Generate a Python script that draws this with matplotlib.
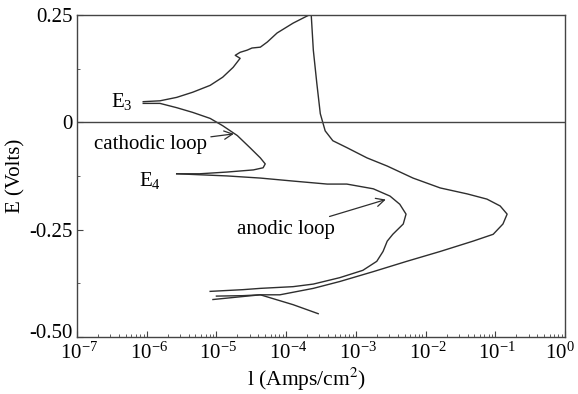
import numpy as np
import matplotlib
matplotlib.use("Agg")
import matplotlib.pyplot as plt
import matplotlib.transforms as mtransforms
from matplotlib.ticker import LogLocator, FixedLocator, NullFormatter

plt.rcParams['font.family'] = ['Liberation Serif', 'DejaVu Serif']
plt.rcParams['mathtext.fontset'] = 'stix'

# log10(current density, A/cm2) and potential (V)
outer_logI = [-6.05, -5.81, -5.57, -5.34, -5.09, -4.91, -4.76, -4.66, -4.73, -4.66, -4.56, -4.49,
              -4.37, -4.27, -4.13, -3.90, -3.67, -3.64, -3.61, -3.56, -3.51, -3.44, -3.33, -3.13,
              -2.84, -2.55, -2.18, -1.79, -1.40, -1.12, -0.93, -0.83, -0.89, -1.03, -1.32, -1.79,
              -2.27, -2.75, -3.23, -3.61, -4.09, -4.37, -4.62, -5.05]
outer_E = [0.048, 0.050, 0.058, 0.070, 0.086, 0.105, 0.128, 0.149, 0.156, 0.163, 0.168, 0.173,
           0.175, 0.187, 0.208, 0.231, 0.250, 0.250, 0.168, 0.091, 0.020, -0.020, -0.043, -0.059,
           -0.083, -0.102, -0.130, -0.153, -0.167, -0.179, -0.195, -0.214, -0.237, -0.261, -0.277, -0.301,
           -0.324, -0.348, -0.371, -0.387, -0.402, -0.402, -0.406, -0.413]

cath_logI = [-6.05, -5.81, -5.57, -5.34, -5.09, -4.91, -4.70, -4.52, -4.37, -4.30, -4.33, -4.47,
             -4.85, -5.24, -5.57]
cath_E = [0.044, 0.044, 0.034, 0.023, 0.009, -0.008, -0.031, -0.059, -0.083, -0.097, -0.106, -0.111,
          -0.116, -0.120, -0.120]

anod_logI = [-5.57, -4.85, -4.37, -3.90, -3.41, -3.13, -2.75, -2.51, -2.37, -2.28, -2.32, -2.47,
             -2.55, -2.61, -2.70, -2.90, -3.23, -3.61, -3.90, -4.37, -4.62, -5.09]
anod_E = [-0.120, -0.125, -0.130, -0.137, -0.144, -0.144, -0.155, -0.172, -0.191, -0.214, -0.237, -0.261,
          -0.277, -0.301, -0.324, -0.345, -0.362, -0.377, -0.383, -0.387, -0.390, -0.394]

tail_logI = [-5.00, -4.62, -4.37, -3.90, -3.54]
tail_E = [-0.405, -0.404, -0.402, -0.425, -0.446]

xticks = [1e-7, 1e-6, 1e-5, 1e-4, 1e-3, 1e-2, 1e-1, 1e0]
xticklabels = ['$\\mathregular{10^{-7}}$', '$\\mathregular{10^{-6}}$', '$\\mathregular{10^{-5}}$',
               '$\\mathregular{10^{-4}}$', '$\\mathregular{10^{-3}}$', '$\\mathregular{10^{-2}}$',
               '$\\mathregular{10^{-1}}$', '$\\mathregular{10^{0}}$']
yticks = [0.25, 0.0, -0.25, -0.50]
yticklabels = ['0.25', '0', '-0.25', '-0.50']

fig = plt.figure(figsize=(5.78, 3.94), dpi=100)
ax = fig.add_axes([0.1332, 0.145, 0.8443, 0.817])

lc = '#2e2e2e'
ax.plot(10 ** np.array(outer_logI), outer_E, color=lc, lw=1.0)
ax.plot(10 ** np.array(cath_logI), cath_E, color=lc, lw=1.0)
ax.plot(10 ** np.array(anod_logI), anod_E, color=lc, lw=1.0)
ax.plot(10 ** np.array(tail_logI), tail_E, color=lc, lw=1.0)
ax.axhline(0, color='#444444', lw=1.0)

ax.set_xscale('log')
ax.set_xlim(1e-7, 1e0)
ax.set_ylim(-0.50, 0.25)
ax.set_xticks(xticks)
ax.set_xticklabels(xticklabels, fontsize=15)
ax.xaxis.set_minor_locator(LogLocator(base=10, subs=np.arange(2, 10), numticks=20))
ax.xaxis.set_minor_formatter(NullFormatter())
ax.set_yticks(yticks)
ax.set_yticklabels(yticklabels, fontsize=15)
ax.yaxis.set_minor_locator(FixedLocator([0.125, -0.125, -0.375]))
ax.tick_params(which='major', direction='in', length=4, width=0.8, color='#444444')
ax.tick_params(axis='y', which='major', pad=3)
ax.tick_params(axis='x', which='major', pad=4)
ax.tick_params(which='minor', direction='in', length=2.5, width=0.6, color='#444444')
for s in ax.spines.values():
    s.set_color('#444444')
    s.set_linewidth(1.0)

labs = ax.get_xticklabels()
for i, lab in enumerate(labs):
    dx = -5 if i == len(labs) - 1 else 2
    off = mtransforms.ScaledTranslation(dx / 100, 0, fig.dpi_scale_trans)
    lab.set_transform(lab.get_transform() + off)

ylabs = ax.get_yticklabels()
ylabs[-1].set_transform(ylabs[-1].get_transform() +
                        mtransforms.ScaledTranslation(0, 6 / 100, fig.dpi_scale_trans))

ax.set_xlabel('l (Amps/cm$^2$)', fontsize=15.5, labelpad=1)
ax.xaxis.set_label_coords(0.471, -0.089)
ax.xaxis.label.set_va('top')
ax.set_ylabel('E (Volts)', fontsize=15, labelpad=3)

ax.text(10 ** -6.35, 0.048, '$\\mathregular{E_3}$', fontsize=15, ha='center', va='center')
ax.text(10 ** -5.95, -0.135, '$\\mathregular{E_4}$', fontsize=15, ha='center', va='center')
ax.annotate('cathodic loop', xy=(10 ** -4.75, -0.027), xytext=(10 ** -5.95, -0.052),
            fontsize=15, ha='center', va='center',
            arrowprops=dict(arrowstyle='->', color=lc, lw=0.9, shrinkA=1, shrinkB=0))
ax.annotate('anodic loop', xy=(10 ** -2.57, -0.18), xytext=(10 ** -4.0, -0.25),
            fontsize=15, ha='center', va='center',
            arrowprops=dict(arrowstyle='->', color=lc, lw=0.9, shrinkA=2, shrinkB=0))

fig.savefig('out.png', dpi=100)
